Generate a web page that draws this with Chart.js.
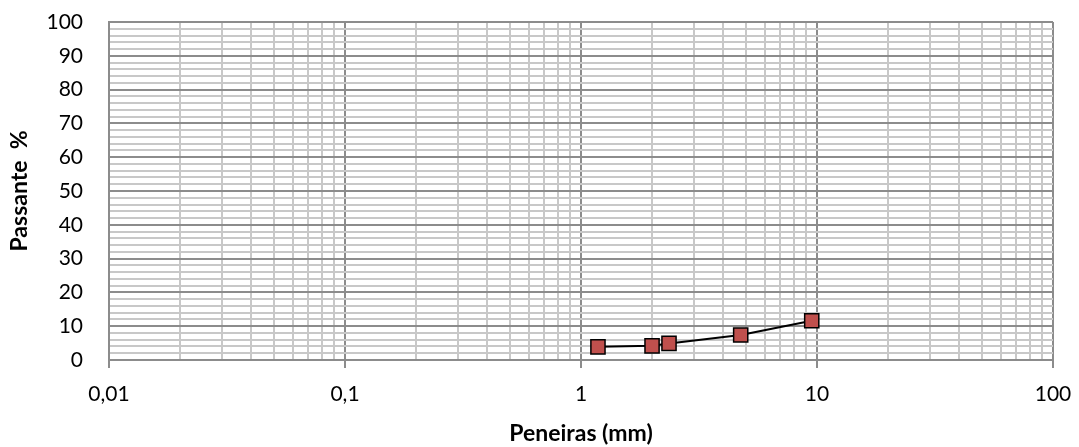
<!DOCTYPE html>
<html>
<head>
<meta charset="utf-8">
<script src="https://cdn.jsdelivr.net/npm/chart.js@4/dist/chart.umd.min.js"></script>
<style>
html,body{margin:0;padding:0;background:#fff;}
#wrap{position:relative;width:1079px;height:447px;}
</style>
</head>
<body>
<div id="wrap"><canvas id="c" width="1079" height="447"></canvas></div>
<script>
const sieveSizes = [1.18, 2.0, 2.36, 4.75, 9.5];
const passing = [3.9, 4.2, 4.9, 7.4, 11.6];
const xDecades = [0.01, 0.1, 1, 10, 100];
const yTicksMajor = [0, 10, 20, 30, 40, 50, 60, 70, 80, 90, 100];

const isDecade = v => Math.abs(Math.log10(v) - Math.round(Math.log10(v))) < 1e-6;
const FONT = "Lato, 'Open Sans', sans-serif";

new Chart(document.getElementById('c'), {
  type: 'scatter',
  data: {
    datasets: [{
      data: sieveSizes.map((x, i) => ({x: x, y: passing[i]})),
      showLine: true,
      borderColor: '#000',
      borderWidth: 2,
      pointStyle: 'rect',
      pointRadius: 10,
      pointHoverRadius: 10,
      pointBackgroundColor: '#c0504d',
      pointBorderColor: '#000',
      pointBorderWidth: 1.5
    }]
  },
  options: {
    responsive: false,
    animation: false,
    layout: {padding: {left: 0, right: 26, top: 22, bottom: 0}},
    plugins: {legend: {display: false}, tooltip: {enabled: false}},
    scales: {
      x: {
        type: 'logarithmic',
        min: 0.01, max: 100,
        afterBuildTicks: (scale) => {
          const t = [];
          for (let d = 0; d < xDecades.length - 1; d++) {
            for (let m = 1; m <= 9; m++) t.push({value: Number((m * xDecades[d]).toPrecision(3))});
          }
          t.push({value: xDecades[xDecades.length - 1]});
          scale.ticks = t;
        },
        afterFit: (scale) => { scale.height = 87; scale.paddingLeft = 0; scale.paddingRight = 0; },
        ticks: {
          autoSkip: false, maxRotation: 0, minRotation: 0,
          padding: 14,
          color: '#000',
          font: {family: FONT, size: 21},
          callback: function(v) { return isDecade(v) ? String(Number(v.toPrecision(3))).replace('.', ',') : ''; }
        },
        grid: {
          color: ctx => (ctx.tick && isDecade(ctx.tick.value)) ? '#8c8c8c' : '#c8c8c8',
          tickColor: ctx => (ctx.tick && isDecade(ctx.tick.value)) ? '#8c8c8c' : 'rgba(0,0,0,0)',
          lineWidth: 2,
          tickLength: 8,
          drawTicks: true
        },
        border: {display: true, color: '#8c8c8c', width: 2},
        title: {
          display: true, text: 'Peneiras (mm)', color: '#000',
          font: {family: FONT, size: 23, weight: 'bold'},
          padding: {top: 0, bottom: 0}
        }
      },
      y: {
        type: 'linear',
        min: 0, max: 100,
        afterBuildTicks: (scale) => {
          const t = [];
          for (let v = 0; v <= 100; v += 2) t.push({value: v});
          scale.ticks = t;
        },
        afterFit: (scale) => { scale.width = 109; scale.paddingTop = 0; scale.paddingBottom = 0; },
        ticks: {
          autoSkip: false,
          padding: 26,
          color: '#000',
          font: {family: FONT, size: 21},
          callback: v => (yTicksMajor.includes(v) ? String(v) : '')
        },
        grid: {
          color: ctx => (ctx.tick && ctx.tick.value % 10 === 0) ? '#8c8c8c' : '#c8c8c8',
          lineWidth: 2,
          drawTicks: false
        },
        border: {display: true, color: '#8c8c8c', width: 2},
        title: {
          display: true, text: 'Passante  %', color: '#000',
          font: {family: FONT, size: 23, weight: 'bold'},
          padding: {top: 6, bottom: 0}
        }
      }
    }
  }
});
</script>
</body>
</html>
